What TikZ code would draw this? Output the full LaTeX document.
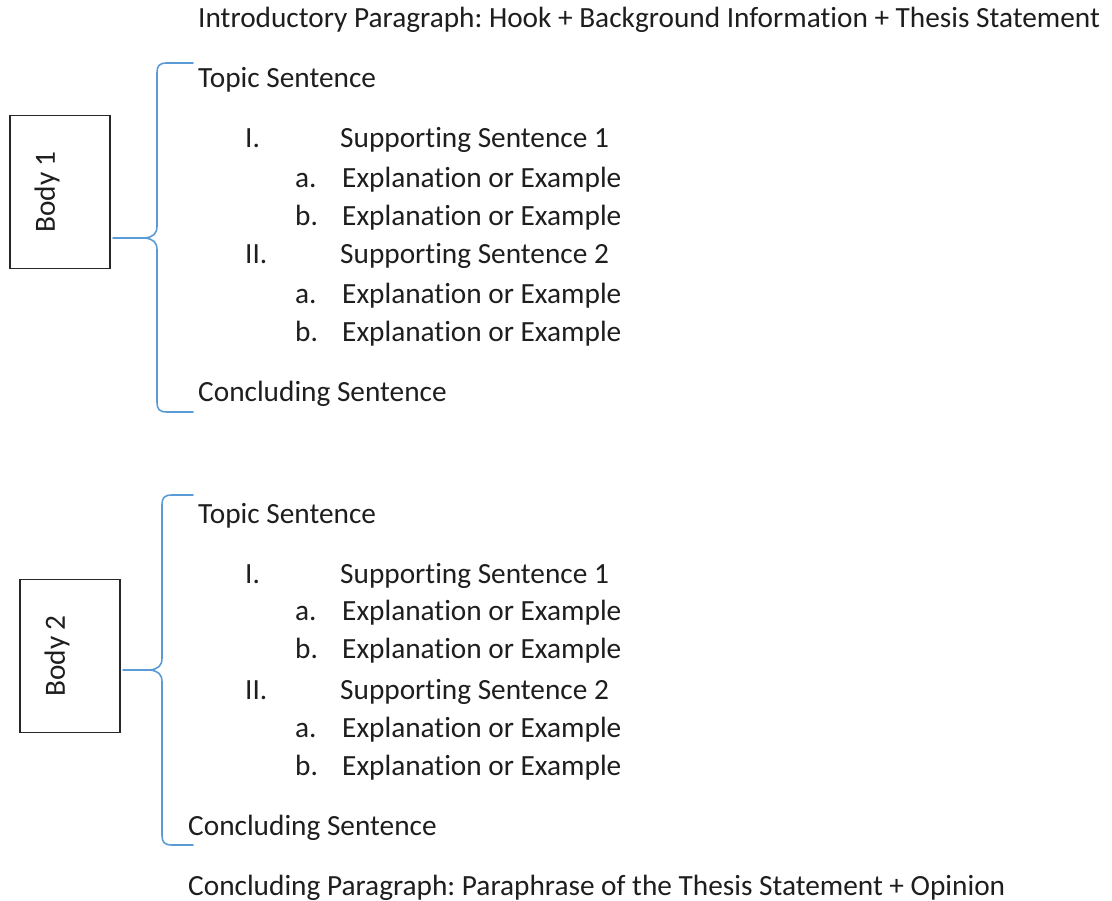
\documentclass[tikz,border=0pt]{standalone}
\usepackage{fontspec}
\setmainfont{Carlito}[Ligatures=NoCommon]
\frenchspacing
\definecolor{txt}{RGB}{30,30,30}
\definecolor{bracec}{RGB}{91,155,213}
\tikzset{
  lbl/.style={anchor=base west, inner sep=0pt, text=txt, font=\fontsize{29.3}{35}\selectfont},
  bodybox/.style={draw=black!85, line width=1.3pt, minimum width=100pt, minimum height=153pt, inner sep=0pt},
  bodylbl/.style={rotate=90, inner sep=0pt, text=txt, font=\fontsize{29.3}{35}\selectfont},
  bracel/.style={draw=bracec, line width=1.6pt, line join=round, line cap=round}
}
\begin{document}
\begin{tikzpicture}[x=1pt,y=-1pt]
\useasboundingbox (0,0) rectangle (1112,901);
% intro
\node[lbl] (intro) at (198,28) {Introductory Paragraph: Hook + Background Information + Thesis Statement};
% body 1
\node[bodybox] (box1) at (60,192) {};
\node[bodylbl] (b1) at (47,192) {Body 1};
\node[lbl] (t1) at (198,88) {Topic Sentence};
\node[lbl] (r1a) at (245,148) {I.};
\node[lbl] (s1a) at (340,148) {Supporting Sentence 1};
\node[lbl] (l1a) at (295,188) {a.};
\node[lbl] (e1a) at (342,188) {Explanation or Example};
\node[lbl] (l1b) at (295,226) {b.};
\node[lbl] (e1b) at (342,226) {Explanation or Example};
\node[lbl] (r1b) at (245,264) {II.};
\node[lbl] (s1b) at (340,264) {Supporting Sentence 2};
\node[lbl] (l1c) at (295,304) {a.};
\node[lbl] (e1c) at (342,304) {Explanation or Example};
\node[lbl] (l1d) at (295,342) {b.};
\node[lbl] (e1d) at (342,342) {Explanation or Example};
\node[lbl] (c1) at (198,402) {Concluding Sentence};
\coordinate (tip1) at (145,238);
\coordinate (from1) at (113,238);
\draw[bracel] (193,63) -- (167,63) .. controls (159,63) and (157,66) .. (157,73) -- (157,226) .. controls (157,234) and (153,237) .. (tip1) .. controls (153,239) and (157,242) .. (157,250) -- (157,402) .. controls (157,409) and (159,412) .. (167,412) -- (193,412);
\draw[bracel] (from1) -- (tip1);
% body 2
\node[bodybox] (box2) at (70,656) {};
\node[bodylbl] (b2) at (57,656) {Body 2};
\node[lbl] (t2) at (198,523) {Topic Sentence};
\node[lbl] (r2a) at (245,583) {I.};
\node[lbl] (s2a) at (340,583) {Supporting Sentence 1};
\node[lbl] (l2a) at (295,620) {a.};
\node[lbl] (e2a) at (342,620) {Explanation or Example};
\node[lbl] (l2b) at (295,658) {b.};
\node[lbl] (e2b) at (342,658) {Explanation or Example};
\node[lbl] (r2b) at (245,699) {II.};
\node[lbl] (s2b) at (340,699) {Supporting Sentence 2};
\node[lbl] (l2c) at (295,737) {a.};
\node[lbl] (e2c) at (342,737) {Explanation or Example};
\node[lbl] (l2d) at (295,775) {b.};
\node[lbl] (e2d) at (342,775) {Explanation or Example};
\node[lbl] (c2) at (188,835) {Concluding Sentence};
\coordinate (tip2) at (150,670);
\coordinate (from2) at (123,670);
\draw[bracel] (193,495) -- (172,495) .. controls (164,495) and (162,498) .. (162,505) -- (162,658) .. controls (162,666) and (158,669) .. (tip2) .. controls (158,671) and (162,674) .. (162,682) -- (162,835) .. controls (162,842) and (164,845) .. (172,845) -- (193,845);
\draw[bracel] (from2) -- (tip2);
% conclusion
\node[lbl] (concl) at (188,895) {Concluding Paragraph: Paraphrase of the Thesis Statement + Opinion};
\end{tikzpicture}
\end{document}
